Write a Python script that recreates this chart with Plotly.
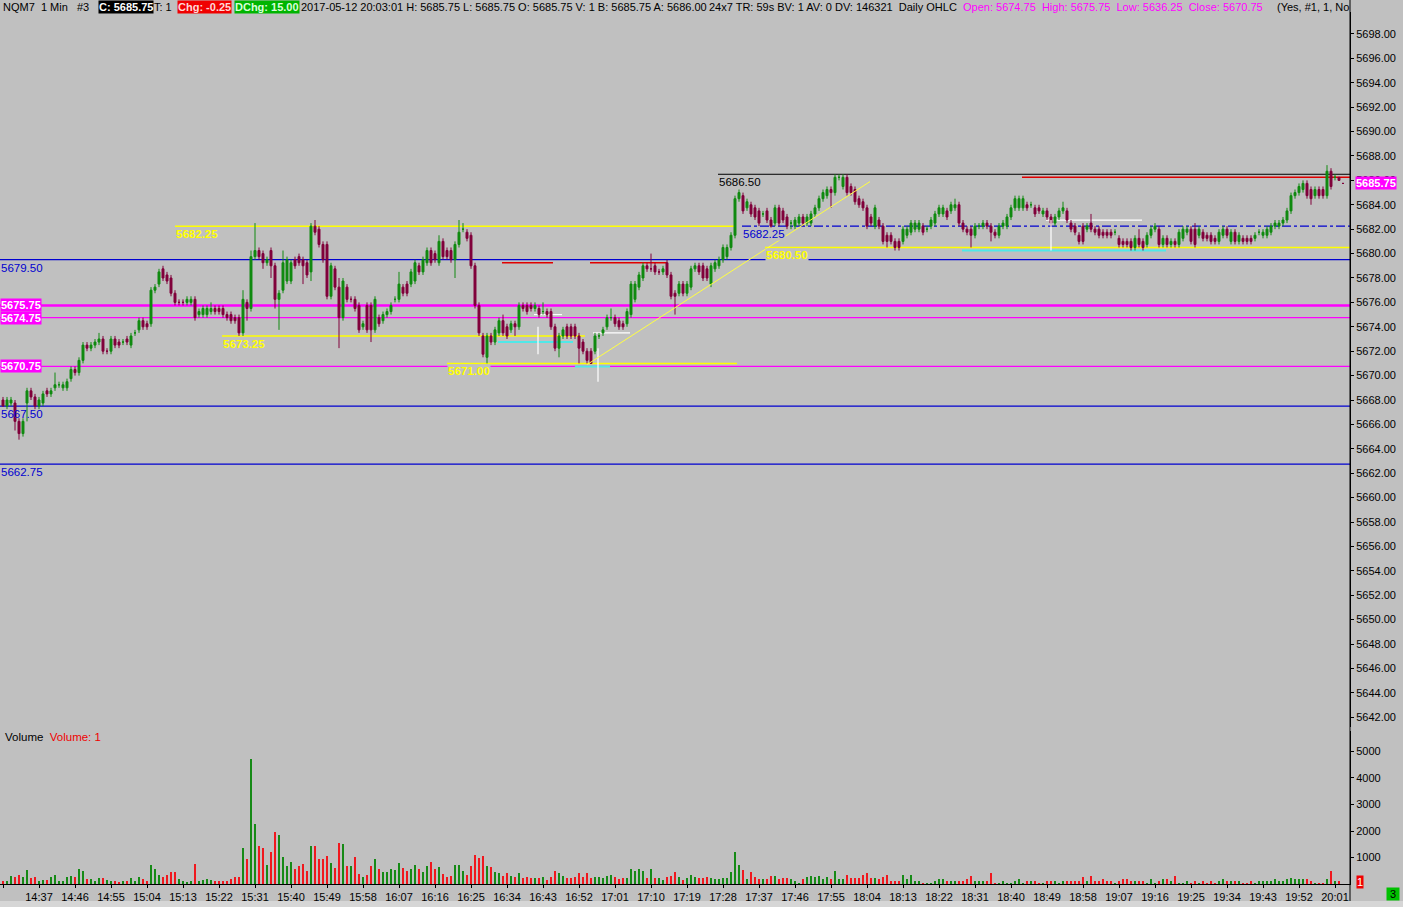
import plotly.graph_objects as go

# ---------------- data ----------------
OPEN = [5668.0,5667.5,5667.75,5667.75,5666.25,5665.25,5667.75,5668.75,5668.25,5667.5,5667.75,5668.75,
5668.5,5669.0,5669.25,5669.0,5669.0,5669.75,5670.5,5670.25,5671.25,5672.5,5672.25,5672.5,
5672.75,5673.0,5672.0,5672.0,5673.0,5672.75,5672.75,5673.0,5672.5,5673.5,5673.75,5674.5,
5674.25,5674.25,5677.0,5677.5,5678.75,5678.25,5678.0,5676.75,5676.0,5676.0,5676.0,5676.0,
5676.25,5675.0,5675.0,5675.0,5675.25,5675.5,5675.5,5675.5,5675.0,5675.0,5674.75,5674.75,
5673.5,5676.0,5675.5,5679.75,5680.25,5680.0,5679.25,5680.25,5679.0,5676.25,5677.0,5677.75,
5677.75,5679.5,5679.75,5679.5,5679.25,5678.5,5682.25,5682.0,5680.75,5680.75,5676.5,5678.75,
5677.25,5674.75,5677.25,5676.25,5676.25,5675.75,5674.0,5675.75,5675.75,5673.75,5674.75,5674.5,
5675.0,5675.25,5676.25,5676.25,5677.25,5677.5,5677.5,5677.75,5679.0,5678.5,5679.25,5680.25,
5680.0,5679.25,5681.0,5680.25,5680.25,5679.5,5680.75,5682.0,5681.75,5681.5,5679.0,5675.75,
5673.25,5671.5,5673.25,5672.75,5673.5,5674.5,5674.0,5673.75,5674.25,5674.0,5675.75,5675.75,
5675.75,5675.5,5675.5,5675.25,5675.25,5675.25,5674.0,5672.25,5673.25,5674.0,5674.0,5674.0,
5673.25,5672.75,5672.0,5672.0,5672.0,5673.25,5673.5,5674.0,5674.75,5674.75,5674.5,5674.25,
5674.25,5675.0,5676.25,5677.25,5678.0,5679.0,5678.75,5679.0,5678.5,5678.5,5679.25,5678.25,
5676.75,5676.75,5677.5,5676.75,5677.25,5678.75,5679.0,5679.0,5678.75,5677.5,5678.75,5679.0,
5679.5,5679.75,5680.5,5681.5,5684.5,5684.75,5683.75,5684.0,5683.75,5683.5,5683.25,5683.5,
5682.75,5682.5,5683.75,5683.5,5683.0,5682.5,5682.25,5682.5,5683.0,5682.5,5682.5,5683.25,
5683.75,5684.5,5684.75,5685.25,5685.0,5686.25,5685.5,5686.25,5685.5,5685.25,5684.5,5684.25,
5683.75,5683.0,5682.25,5682.75,5682.25,5681.5,5681.5,5681.0,5681.0,5681.0,5681.5,5681.75,
5682.0,5682.0,5682.25,5682.0,5682.25,5682.5,5683.25,5683.25,5683.5,5683.5,5683.75,5684.0,
5682.5,5682.0,5682.0,5681.5,5682.25,5682.25,5682.5,5682.25,5681.75,5681.5,5682.25,5682.25,
5683.0,5683.75,5683.75,5683.75,5684.0,5684.0,5683.75,5683.75,5683.25,5683.5,5683.0,5682.5,
5683.0,5683.5,5683.5,5682.5,5682.25,5681.5,5682.25,5682.0,5682.5,5682.0,5682.0,5681.75,
5681.75,5681.75,5681.75,5681.25,5681.0,5681.0,5681.0,5680.5,5681.25,5681.0,5680.75,5681.5,
5682.0,5682.0,5680.75,5681.25,5680.75,5681.0,5680.75,5681.25,5681.75,5682.0,5682.0,5681.5,
5681.75,5681.5,5681.5,5681.25,5681.0,5681.5,5682.0,5681.0,5681.75,5681.0,5681.25,5681.25,
5681.25,5681.25,5681.75,5681.5,5681.5,5681.75,5682.25,5682.25,5682.5,5682.75,5683.5,5684.75,
5685.0,5685.25,5685.75,5685.25,5684.75,5685.25,5685.25,5684.75,5686.75,5686.25,5686.25,5685.75]

HIGH = [5668.25,5668.25,5668.25,5668.0,5666.5,5666.5,5669.0,5669.0,5668.5,5668.25,5668.75,5669.0,
5669.0,5670.25,5669.5,5669.5,5669.75,5670.75,5670.75,5671.5,5672.75,5672.75,5672.75,5673.0,
5673.5,5673.25,5672.25,5673.25,5673.25,5673.0,5673.0,5673.25,5673.5,5673.75,5674.75,5674.75,
5674.5,5677.25,5677.5,5678.75,5679.0,5678.5,5678.25,5677.0,5676.25,5676.25,5676.5,5676.5,
5676.5,5675.5,5675.75,5675.75,5676.0,5675.75,5675.75,5675.75,5675.25,5675.25,5675.0,5675.0,
5677.0,5676.25,5680.25,5682.5,5680.5,5680.25,5679.75,5680.5,5679.25,5677.0,5680.25,5679.75,
5679.5,5679.75,5680.0,5679.75,5679.5,5682.5,5682.75,5682.25,5681.0,5681.0,5679.25,5679.0,
5678.0,5678.0,5677.5,5676.5,5676.5,5676.0,5674.5,5676.0,5676.0,5676.5,5675.0,5675.25,
5675.5,5676.0,5676.5,5678.5,5677.5,5677.75,5678.75,5679.5,5679.25,5679.75,5680.5,5680.5,
5680.25,5681.5,5681.25,5680.5,5680.5,5681.0,5682.75,5682.5,5682.0,5681.75,5679.25,5676.0,
5673.5,5673.5,5673.5,5674.0,5674.75,5675.0,5674.25,5674.5,5674.5,5676.0,5676.0,5676.0,
5676.0,5676.0,5675.75,5676.0,5675.5,5675.5,5674.25,5673.5,5674.0,5674.25,5674.25,5674.25,
5673.5,5673.0,5672.25,5672.25,5673.5,5673.5,5674.0,5675.0,5675.5,5675.0,5674.75,5674.5,
5675.5,5677.75,5677.75,5678.5,5679.25,5679.25,5680.0,5679.25,5678.75,5679.0,5679.5,5678.5,
5677.0,5677.75,5677.75,5677.75,5679.0,5679.25,5679.25,5679.25,5679.0,5679.25,5679.5,5679.75,
5680.75,5680.75,5681.75,5684.75,5685.25,5685.0,5684.5,5684.25,5684.0,5683.75,5683.5,5683.75,
5683.0,5684.0,5684.0,5683.75,5683.25,5682.75,5683.0,5683.25,5683.25,5683.25,5683.5,5684.0,
5684.75,5685.25,5685.5,5685.5,5686.5,5686.5,5686.5,5686.5,5685.75,5685.5,5684.75,5684.5,
5684.0,5683.25,5684.0,5683.0,5682.5,5681.75,5681.75,5681.25,5681.25,5682.25,5682.25,5682.75,
5682.75,5682.75,5682.5,5682.25,5683.0,5683.5,5684.0,5684.0,5683.75,5684.25,5684.5,5684.25,
5682.75,5682.25,5682.25,5682.5,5682.5,5682.75,5682.75,5682.5,5682.0,5682.5,5682.75,5683.25,
5684.0,5684.75,5684.75,5684.75,5684.25,5684.25,5684.0,5684.0,5683.75,5683.75,5683.25,5683.25,
5683.75,5684.25,5683.75,5682.75,5682.5,5681.75,5682.5,5682.5,5683.25,5682.25,5682.25,5682.0,
5682.0,5682.0,5682.0,5681.5,5681.25,5681.25,5681.25,5681.5,5682.0,5681.25,5681.75,5682.25,
5682.5,5682.25,5681.5,5681.5,5681.25,5681.25,5682.0,5682.25,5682.25,5682.25,5682.5,5682.25,
5682.0,5681.75,5681.75,5681.5,5682.0,5682.25,5682.25,5682.0,5682.0,5681.75,5681.5,5681.5,
5681.5,5681.75,5682.0,5682.0,5682.25,5682.5,5682.75,5682.75,5683.0,5683.75,5685.0,5685.25,
5685.75,5686.0,5686.0,5685.5,5685.5,5685.5,5685.5,5687.25,5687.0,5686.5,5686.25,5685.75]

LOW = [5667.5,5667.25,5667.5,5665.5,5664.75,5665.0,5666.25,5668.0,5667.25,5667.25,5667.5,5668.25,
5668.25,5668.75,5669.0,5668.75,5668.75,5669.5,5670.0,5670.0,5671.0,5672.0,5672.0,5672.25,
5672.5,5671.75,5671.75,5671.75,5672.25,5672.25,5672.5,5672.5,5672.25,5673.25,5673.5,5673.75,
5673.75,5674.0,5676.75,5677.25,5677.75,5677.5,5676.5,5675.75,5675.75,5675.75,5675.75,5675.75,
5674.5,5674.75,5674.75,5674.75,5675.0,5675.0,5675.0,5674.75,5674.5,5674.25,5674.25,5673.25,
5673.25,5674.5,5675.25,5679.5,5679.5,5678.75,5679.0,5678.0,5675.5,5673.75,5676.75,5677.5,
5677.5,5678.75,5679.0,5677.5,5678.0,5677.75,5681.5,5680.5,5679.25,5676.25,5676.25,5677.0,
5672.25,5674.5,5676.0,5676.0,5675.25,5673.5,5673.75,5673.5,5672.75,5673.5,5674.0,5674.25,
5674.75,5675.0,5676.0,5676.0,5676.5,5676.5,5677.25,5677.5,5678.25,5678.25,5679.0,5679.0,
5679.25,5679.0,5679.5,5679.5,5679.25,5678.0,5680.5,5681.75,5681.0,5678.75,5675.5,5673.25,
5671.5,5671.0,5672.5,5672.5,5673.25,5673.25,5673.0,5673.5,5673.25,5673.75,5675.25,5675.0,
5675.25,5675.25,5674.75,5675.0,5674.75,5673.75,5672.0,5671.5,5673.0,5673.0,5673.0,5673.0,
5671.0,5671.75,5671.0,5671.0,5671.75,5673.0,5673.25,5673.75,5674.5,5674.0,5673.75,5673.75,
5674.0,5674.75,5676.0,5677.0,5677.75,5678.5,5678.5,5678.25,5678.25,5678.25,5678.0,5676.25,
5675.0,5676.5,5676.5,5676.5,5677.0,5678.5,5678.25,5677.75,5677.75,5677.25,5678.5,5678.75,
5679.25,5679.5,5680.25,5681.25,5684.25,5683.25,5683.5,5683.0,5682.75,5682.25,5683.0,5682.5,
5682.0,5682.25,5682.25,5682.5,5682.0,5682.0,5682.0,5682.25,5682.25,5682.25,5682.25,5683.0,
5683.5,5684.25,5684.5,5683.75,5684.75,5686.0,5685.25,5684.75,5684.75,5684.0,5683.75,5683.5,
5682.0,5682.25,5682.0,5682.0,5680.75,5680.5,5680.75,5680.25,5680.25,5680.75,5681.25,5681.5,
5681.75,5681.75,5681.5,5681.75,5682.0,5682.25,5683.0,5683.0,5682.75,5683.25,5683.5,5682.25,
5681.75,5681.5,5680.5,5681.25,5682.0,5682.0,5682.0,5681.0,5681.25,5681.25,5682.0,5682.0,
5682.75,5683.5,5683.5,5683.5,5683.5,5683.75,5683.0,5683.25,5683.0,5682.75,5682.25,5682.25,
5682.75,5683.25,5682.5,5681.75,5681.5,5680.75,5680.75,5681.75,5681.75,5681.5,5681.25,5681.25,
5681.25,5681.25,5681.5,5680.5,5680.5,5680.5,5680.25,5680.25,5680.5,5680.25,5680.5,5681.25,
5681.75,5680.5,5680.5,5680.5,5680.5,5680.5,5680.5,5681.0,5681.5,5680.75,5680.5,5681.25,
5681.0,5681.0,5680.75,5680.75,5680.75,5681.25,5681.25,5680.75,5680.75,5680.75,5680.75,5680.75,
5680.75,5681.0,5681.5,5681.25,5681.25,5681.5,5682.0,5682.0,5682.25,5682.5,5683.25,5684.5,
5684.75,5685.0,5684.5,5684.0,5684.5,5684.5,5684.5,5684.5,5685.25,5686.0,5686.0,5685.75]

CLOSE = [5667.5,5668.0,5668.0,5666.25,5665.25,5666.25,5668.75,5668.25,5667.5,5668.0,5668.5,5668.5,
5668.75,5669.25,5669.25,5669.25,5669.5,5670.5,5670.25,5671.25,5672.5,5672.25,5672.5,5672.75,
5673.0,5672.0,5672.0,5673.0,5672.5,5672.5,5672.75,5672.75,5673.25,5673.5,5674.5,5674.0,
5674.0,5677.0,5677.25,5678.5,5678.0,5677.75,5676.75,5676.0,5676.0,5676.0,5676.25,5676.25,
5674.75,5675.25,5675.5,5675.5,5675.5,5675.25,5675.25,5675.0,5674.75,5674.5,5674.5,5673.5,
5676.25,5675.5,5679.75,5680.25,5679.75,5679.25,5679.5,5679.0,5676.25,5676.75,5679.25,5679.5,
5679.25,5679.0,5679.25,5679.0,5678.25,5682.25,5681.75,5680.75,5679.5,5676.5,5679.0,5677.25,
5674.75,5677.75,5676.25,5676.25,5675.5,5673.75,5674.25,5673.75,5673.75,5676.25,5674.25,5675.0,
5675.25,5675.75,5676.25,5677.5,5676.75,5676.75,5678.5,5679.25,5678.5,5679.5,5680.25,5679.25,
5679.5,5681.0,5679.75,5679.75,5679.5,5680.75,5681.75,5682.0,5681.25,5679.0,5675.75,5673.5,
5671.75,5673.25,5672.75,5673.75,5674.5,5673.5,5673.25,5674.25,5674.0,5675.75,5675.5,5675.25,
5675.5,5675.75,5675.0,5675.25,5675.0,5674.0,5672.25,5673.25,5673.75,5673.25,5673.25,5673.25,
5672.25,5672.0,5671.25,5671.0,5673.25,5673.25,5673.75,5674.75,5674.75,5674.25,5674.0,5674.0,
5675.25,5677.5,5677.5,5678.25,5679.0,5678.75,5678.75,5678.5,5678.5,5678.75,5678.25,5676.5,
5676.5,5677.5,5676.75,5677.5,5678.75,5679.0,5678.5,5678.0,5678.0,5679.0,5679.25,5679.5,
5680.5,5680.5,5681.5,5684.5,5685.0,5683.5,5684.25,5683.25,5683.0,5682.5,5683.25,5682.75,
5682.25,5683.75,5682.5,5682.75,5682.25,5682.5,5682.75,5683.0,5682.5,5683.0,5683.25,5683.75,
5684.5,5685.0,5685.25,5685.0,5686.25,5686.25,5686.25,5685.0,5685.0,5684.25,5684.0,5683.75,
5682.25,5682.5,5683.75,5682.25,5681.0,5681.0,5681.0,5680.5,5680.5,5682.0,5682.0,5682.5,
5682.5,5682.5,5681.75,5682.0,5682.75,5683.25,5683.75,5683.75,5683.0,5684.0,5684.0,5682.5,
5682.0,5681.75,5681.5,5682.25,5682.25,5682.5,5682.25,5681.75,5681.5,5682.25,5682.5,5683.0,
5683.75,5684.5,5684.5,5684.5,5683.75,5684.0,5683.25,5683.5,5683.5,5683.0,5682.5,5683.0,
5683.5,5683.75,5682.75,5682.0,5681.75,5681.0,5681.0,5682.25,5682.0,5681.75,5681.5,5681.5,
5681.5,5681.5,5681.75,5680.75,5680.75,5680.75,5680.5,5681.25,5680.75,5680.5,5681.5,5682.0,
5682.25,5680.75,5681.25,5680.75,5681.0,5680.75,5681.75,5682.0,5682.0,5681.0,5680.75,5682.0,
5681.25,5681.25,5681.0,5681.0,5681.75,5682.0,5681.5,5681.75,5681.0,5681.5,5681.0,5681.0,
5681.0,5681.5,5681.75,5681.75,5682.0,5682.25,5682.5,5682.5,5682.75,5683.5,5684.75,5685.0,
5685.5,5685.75,5684.75,5684.5,5685.25,5684.75,5684.75,5686.75,5685.5,5686.25,5686.0,5685.75]

VOLUME = [140,140,330,290,365,290,540,240,265,140,165,175,290,365,140,140,290,330,290,600,
515,225,225,140,250,250,175,140,140,100,140,140,250,140,290,225,115,730,600,365,
265,365,480,480,200,140,100,140,780,115,165,200,165,140,140,140,140,225,290,265,
1380,945,4730,2290,1460,1370,740,1230,1990,1875,1045,705,855,580,705,755,515,1460,1460,970,
945,1080,820,640,1570,1535,705,705,1020,390,300,365,705,970,590,480,480,590,555,820,
630,515,590,740,590,480,705,855,590,665,400,290,330,740,740,515,365,705,1120,1005,
1080,705,665,480,450,330,440,330,290,440,250,290,250,250,250,290,175,290,515,440,
330,250,250,290,440,290,440,250,290,290,250,330,365,290,215,250,250,590,515,590,
515,250,590,250,250,175,290,330,480,290,175,250,365,290,250,230,
270,230,190,190,230,230,460,1230,740,550,190,460,270,190,190,190,310,310,190,230,
230,190,150,75,190,270,310,270,310,190,270,190,510,190,190,345,230,230,230,345,
420,230,230,190,270,345,150,150,150,345,190,345,150,150,75,75,75,150,190,190,
115,150,115,150,115,190,310,115,115,115,115,420,75,40,150,75,75,115,190,75,
115,115,115,75,75,115,150,115,75,115,115,115,115,115,270,150,310,115,150,190,
115,115,75,115,190,190,150,115,115,115,75,190,75,115,190,190,150,310,75,75,
115,40,115,75,115,75,115,75,150,190,150,150,150,115,75,75,115,75,115,150,
115,115,190,150,115,190,230,190,190,190,190,150,75,40,40,190,510,150,115,1]

TIME_LABELS = ["14:28","14:37","14:46","14:55","15:04","15:13","15:22","15:31","15:40","15:49",
"15:58","16:07","16:16","16:25","16:34","16:43","16:52","17:01","17:10","17:19","17:28",
"17:37","17:46","17:55","18:04","18:13","18:22","18:31","18:40","18:49","18:58","19:07",
"19:16","19:25","19:34","19:43","19:52","20:01"]
LABEL_STEP = 9  # bars (minutes) between time labels

PRICE_TICKS = [5642 + 2 * k for k in range(29)]
VOLUME_TICKS = [1000, 2000, 3000, 4000, 5000]

# study levels
BLUE_LEVELS = [5679.50, 5667.50, 5662.75]
PINK_LEVELS = [5675.75, 5674.75, 5670.75]
PINK_WIDTHS = [2.5, 1.2, 1.2]
# (price, start bar, end bar)
YELLOW_SEGMENTS = [(5682.25, 43, 183), (5673.25, 54.75, 145.5), (5671.00, 111, 183.5), (5680.50, 190.5, 337)]
HIGH_LINE = (5686.50, 178.75, 337)
BLUE_DASH_LINE = (5682.25, 184.75, 337)
RED_SEGMENTS = [(5679.25, 124.75, 137.5), (5679.25, 146.75, 166), (5686.25, 254.75, 337)]
CYAN_SEGMENTS = [(5672.75, 123.75, 142.5), (5670.75, 143, 151.75), (5680.25, 239.75, 290.75)]
WHITE_H = [(5675.0, 132.75, 139.75), (5673.5, 147.5, 156.75), (5682.75, 260.75, 284.75)]
WHITE_V = [(133.75, 5674.0, 5671.75), (148.75, 5672.25, 5669.5), (262, 5682.75, 5680.25)]
TRENDLINE = [(146, 5670.9), (216.75, 5685.9)]
LAST_PRICE = 5685.75

# ---------------- figure ----------------
N = len(CLOSE)
X = list(range(N))
GREEN = "#108A10"
MAROON = "#80003A"
VGREEN = "#168A16"
VRED = "#F0181E"
BG = "#C0C0C0"
FONT = "Liberation Sans, Arial, sans-serif"

W, H = 1403, 907
ML, MR, MT, MB = 0, 53, 12, 23
PW, PH = W - ML - MR, H - MT - MB
XR = [-0.75, -0.75 + PW / 4.0]


def py(pix):
    """pixel row -> paper y"""
    return (H - MB - pix) / PH


def px(pix):
    return (pix - ML) / PW


fig = go.Figure()
fig.add_trace(go.Candlestick(
    x=X, open=OPEN, high=HIGH, low=LOW, close=CLOSE,
    increasing=dict(line=dict(color=GREEN, width=1), fillcolor=GREEN),
    decreasing=dict(line=dict(color=MAROON, width=1), fillcolor=MAROON),
    whiskerwidth=0, hoverinfo="skip", xaxis="x", yaxis="y", showlegend=False))

vcolors = [VGREEN if c >= o else VRED for o, c in zip(OPEN, CLOSE)]
fig.add_trace(go.Bar(x=X, y=VOLUME, marker=dict(color=vcolors, line=dict(width=0)),
                     width=0.5, xaxis="x2", yaxis="y2", hoverinfo="skip", showlegend=False))

shapes = []
annos = []


def hline(y, x0, x1, color, width=1, dash="solid", xref="x", yref="y"):
    shapes.append(dict(type="line", xref=xref, yref=yref, x0=x0, x1=x1, y0=y, y1=y,
                       line=dict(color=color, width=width, dash=dash), layer="below"))


for lv in BLUE_LEVELS:
    hline(lv, 0, 1, "#0000D0", 1.2, xref="paper")
for lv, w in zip(PINK_LEVELS, PINK_WIDTHS):
    hline(lv, 0, 1, "#FF00FF", w, xref="paper")
for lv, a, b in YELLOW_SEGMENTS:
    hline(lv, a, b, "#FFFF00", 1.5)
hline(HIGH_LINE[0], HIGH_LINE[1], HIGH_LINE[2], "#000000", 1)
hline(BLUE_DASH_LINE[0], BLUE_DASH_LINE[1], BLUE_DASH_LINE[2], "#0000D0", 1.2, dash="dashdot")
for lv, a, b in RED_SEGMENTS:
    hline(lv, a, b, "#E00000", 1.5)
for lv, a, b in CYAN_SEGMENTS:
    hline(lv, a, b, "#50E8E8", 2)
for lv, a, b in WHITE_H:
    hline(lv, a, b, "#FFFFFF", 1.2)
for xv, y0, y1 in WHITE_V:
    shapes.append(dict(type="line", xref="x", yref="y", x0=xv, x1=xv, y0=y0, y1=y1,
                       line=dict(color="#FFFFFF", width=1.2)))
shapes.append(dict(type="line", xref="x", yref="y", x0=TRENDLINE[0][0], y0=TRENDLINE[0][1],
                   x1=TRENDLINE[1][0], y1=TRENDLINE[1][1], line=dict(color="#FFFF40", width=1)))

# right axis full-height line and bottom strip
shapes.append(dict(type="line", xref="paper", yref="paper", x0=1, x1=1, y0=py(H), y1=py(0),
                   line=dict(color="#000000", width=1)))
shapes.append(dict(type="rect", xref="paper", yref="paper", x0=px(0), x1=px(W), y0=py(H), y1=py(901),
                   fillcolor="#D6D6D6", line=dict(width=0)))


def label(text, x, y, color, yref="y", xanchor="left", yanchor="top", bg=None, size=11, yshift=0, bold=False):
    t = "<b>%s</b>" % text if bold else text
    annos.append(dict(text=t, x=x, y=y, xref="paper", yref=yref, xanchor=xanchor, yanchor=yanchor,
                      showarrow=False, font=dict(family=FONT, size=size, color=color),
                      bgcolor=bg, borderpad=0, yshift=yshift))


# left-edge level labels
for lv in BLUE_LEVELS:
    label("%.2f" % lv, px(0), lv, "#0000D0", yshift=-1, size=11.5)
for lv in PINK_LEVELS:
    label("%.2f" % lv, px(0), lv, "#FFFFFF", yanchor="middle", bg="#FF00FF", bold=True)
for lv, a, b in YELLOW_SEGMENTS:
    label("%.2f" % lv, px(3 + 4 * a), lv, "#FFFF00", yshift=-1, bold=True, bg=BG, size=11.5)
label("%.2f" % HIGH_LINE[0], px(3 + 4 * HIGH_LINE[1]), HIGH_LINE[0], "#000000", yshift=-1, bg=BG, size=11.5)
label("%.2f" % BLUE_DASH_LINE[0], px(3 + 4 * BLUE_DASH_LINE[1]), BLUE_DASH_LINE[0], "#0000D0",
      yshift=-1, bg=BG, size=11.5)

# current price tag on the axis
label("%.2f" % LAST_PRICE, px(1355), LAST_PRICE, "#FFFFFF", yanchor="middle", bg="#FF00FF", bold=True)

# header
HY = py(0)
label("NQM7&nbsp;&nbsp;1 Min&nbsp;&nbsp;&nbsp;#3", px(2), HY, "#000000", yref="paper")
label("C: 5685.75", px(98), HY, "#FFFFFF", yref="paper", bg="#000000", bold=True)
label("T: 1", px(153), HY, "#000000", yref="paper")
label("Chg: -0.25", px(177), HY, "#FFD8D8", yref="paper", bg="#F00000", bold=True)
label("DChg: 15.00", px(234), HY, "#D8FFD8", yref="paper", bg="#00B400", bold=True)
label("2017-05-12 20:03:01 H: 5685.75 L: 5685.75 O: 5685.75 V: 1 B: 5685.75 A: 5686.00",
      px(300), HY, "#000000", yref="paper")
label("24x7 TR: 59s BV: 1 AV: 0 DV: 146321&nbsp;&nbsp;Daily OHLC", px(708), HY, "#000000", yref="paper")
label("Open: 5674.75&nbsp;&nbsp;High: 5675.75&nbsp;&nbsp;Low: 5636.25&nbsp;&nbsp;Close: 5670.75",
      px(962), HY, "#FF00FF", yref="paper")
label("(Yes, #1, 1, No", px(1276), HY, "#000000", yref="paper")

# volume pane title and markers
annos.append(dict(text='Volume&nbsp;&nbsp;<span style="color:#F00000">Volume: 1</span>', x=px(3), y=py(737),
                  xref="paper", yref="paper", xanchor="left", yanchor="middle", showarrow=False,
                  font=dict(family=FONT, size=11.5, color="#000000")))
label("1", px(1356), py(882), "#FFFFFF", yref="paper", yanchor="middle", bg="#F00000")
label("&nbsp;3&nbsp;", px(1386), py(894), "#000000", yref="paper", yanchor="middle", bg="#00C000")

tickfont = dict(family=FONT, size=11, color="#000000")
fig.update_layout(
    width=W, height=H, margin=dict(l=ML, r=MR, t=MT, b=MB),
    paper_bgcolor=BG, plot_bgcolor=BG, showlegend=False, hovermode=False,
    shapes=shapes, annotations=annos, bargap=0,
    xaxis=dict(domain=[0, 1], anchor="y", range=XR, showticklabels=False, ticks="",
               showgrid=False, zeroline=False, showline=False, rangeslider=dict(visible=False),
               fixedrange=True),
    xaxis2=dict(domain=[0, 1], anchor="y2", range=XR, showgrid=False, zeroline=False,
                tickmode="array", tickvals=[LABEL_STEP * k for k in range(len(TIME_LABELS))],
                ticktext=TIME_LABELS, ticks="outside", ticklen=3, tickcolor="#000000",
                showline=True, linecolor="#000000", linewidth=1, tickfont=tickfont, fixedrange=True),
    yaxis=dict(domain=[py(727), 1], anchor="x", side="right", range=[5641.2, 5699.8],
               tickmode="array", tickvals=PRICE_TICKS, tickformat=".2f", ticks="outside",
               ticklen=3, tickcolor="#000000", showline=True, linecolor="#000000",
               showgrid=False, zeroline=False, tickfont=tickfont, fixedrange=True),
    yaxis2=dict(domain=[0, py(730.5)], anchor="x2", side="right", range=[0, 5792],
                tickmode="array", tickvals=VOLUME_TICKS, ticks="outside", ticklen=3,
                tickcolor="#000000", showline=True, linecolor="#000000", showgrid=False,
                zeroline=False, tickfont=tickfont, fixedrange=True),
)

fig.write_html("out.html", config={"displayModeBar": False},
               post_script="document.body.style.margin='0px';"
                           "document.body.style.background='#C0C0C0';")
